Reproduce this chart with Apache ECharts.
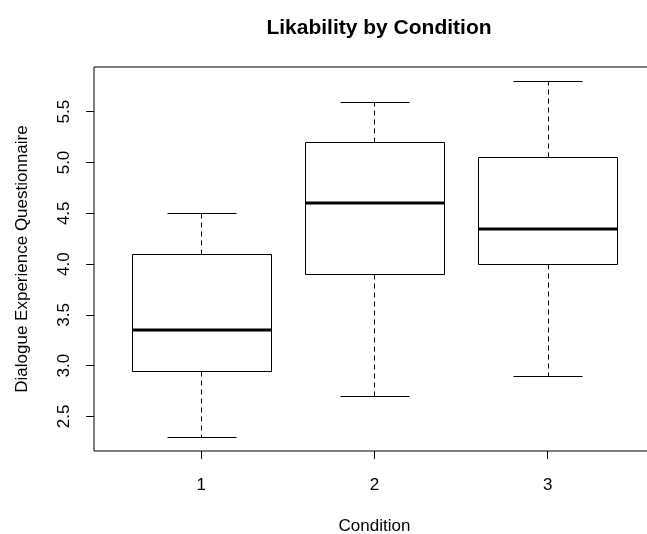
<!DOCTYPE html>
<html>
<head>
<meta charset="utf-8">
<script src="https://cdn.jsdelivr.net/npm/echarts@6/dist/echarts.min.js"></script>
<style>
html,body{margin:0;padding:0;background:#fff;}
#chart{width:647px;height:534px;}
</style>
</head>
<body>
<div id="chart"></div>
<script>
// Data
const categories = [1, 2, 3];
const lowerWhisker = [2.3, 2.7, 2.9];
const q1Values     = [2.95, 3.9, 4.0];
const medianValues = [3.35, 4.6, 4.35];
const q3Values     = [4.1, 5.2, 5.05];
const upperWhisker = [4.5, 5.6, 5.8];
const yTicks = [2.5, 3.0, 3.5, 4.0, 4.5, 5.0, 5.5];
const xTicks = [1, 2, 3];

const seriesData = categories.map((c, i) => [c, lowerWhisker[i], q1Values[i], medianValues[i], q3Values[i], upperWhisker[i]]);

const FONT = '"Liberation Sans", Arial, sans-serif';

function crisp(v){ return Math.round(v) + 0.5; }

function renderItem(params, api) {
  const x = api.value(0);
  const lo = api.value(1), q1 = api.value(2), md = api.value(3), q3 = api.value(4), hi = api.value(5);
  const boxHalf = 0.4, capHalf = 0.2;
  const tl = api.coord([x - boxHalf, q3]);
  const br = api.coord([x + boxHalf, q1]);
  const cx = crisp(api.coord([x, md])[0]);
  const yMed = api.coord([x, md])[1];
  const yLo = crisp(api.coord([x, lo])[1]);
  const yHi = crisp(api.coord([x, hi])[1]);
  const capL = crisp(api.coord([x - capHalf, lo])[0]);
  const capR = crisp(api.coord([x + capHalf, lo])[0]);
  const bx1 = crisp(tl[0]), bx2 = crisp(br[0]);
  const by1 = crisp(tl[1]), by2 = crisp(br[1]);
  const thin = {stroke: '#000', lineWidth: 1, fill: null};
  const dashed = {stroke: '#000', lineWidth: 1, lineDash: [5, 4], fill: null};
  return {
    type: 'group',
    children: [
      {type: 'line', shape: {x1: cx, y1: by2, x2: cx, y2: yLo}, style: dashed},
      {type: 'line', shape: {x1: cx, y1: by1, x2: cx, y2: yHi}, style: dashed},
      {type: 'line', shape: {x1: capL, y1: yLo, x2: capR, y2: yLo}, style: thin},
      {type: 'line', shape: {x1: capL, y1: yHi, x2: capR, y2: yHi}, style: thin},
      {type: 'rect', shape: {x: bx1, y: by1, width: bx2 - bx1, height: by2 - by1}, style: {stroke: '#000', lineWidth: 1, fill: '#fff'}},
      {type: 'line', shape: {x1: bx1, y1: Math.round(yMed), x2: bx2, y2: Math.round(yMed)}, style: {stroke: '#000', lineWidth: 3}}
    ]
  };
}

const chart = echarts.init(document.getElementById('chart'), null, {renderer: 'canvas'});
chart.setOption({
  animation: false,
  backgroundColor: '#fff',
  title: {
    text: 'Likability by Condition',
    left: 374, textAlign: 'center', top: 13,
    textStyle: {fontFamily: FONT, fontSize: 21, fontWeight: 'bold', color: '#000'}
  },
  grid: {
    left: 94, top: 67, width: 561, height: 384,
    outerBoundsMode: 'none', containLabel: false,
    show: true, borderColor: '#000', borderWidth: 1, backgroundColor: 'transparent'
  },
  xAxis: {
    type: 'value', min: 0.38, max: 3.62,
    name: 'Condition', nameLocation: 'middle', nameGap: 67,
    nameTextStyle: {fontFamily: FONT, fontSize: 17, color: '#000'},
    axisLine: {show: false},
    splitLine: {show: false},
    axisTick: {show: true, length: 8, lineStyle: {color: '#000'}, customValues: xTicks},
    axisLabel: {fontFamily: FONT, fontSize: 17, color: '#000', margin: 26, customValues: xTicks,
      formatter: v => String(v)}
  },
  yAxis: {
    type: 'value', min: 2.16, max: 5.94,
    name: 'Dialogue Experience Questionnaire', nameLocation: 'middle', nameGap: 63, nameRotate: 90,
    nameTextStyle: {fontFamily: FONT, fontSize: 17, color: '#000'},
    axisLine: {show: false},
    splitLine: {show: false},
    axisTick: {show: true, length: 8, lineStyle: {color: '#000'}, customValues: yTicks},
    axisLabel: {fontFamily: FONT, fontSize: 17, color: '#000', margin: 21, rotate: 90, customValues: yTicks,
      formatter: v => v.toFixed(1)}
  },
  series: [{
    type: 'custom',
    renderItem: renderItem,
    encode: {x: 0, y: [1, 2, 3, 4, 5]},
    data: seriesData,
    clip: false
  }]
});
</script>
</body>
</html>
